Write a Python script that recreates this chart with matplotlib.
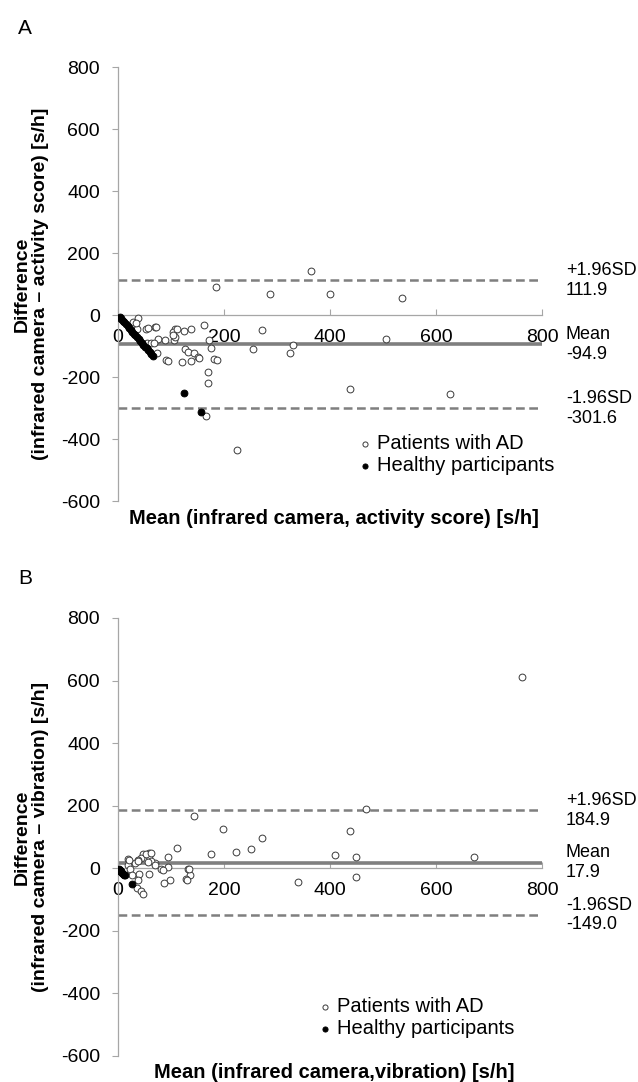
import numpy as np
import matplotlib
matplotlib.use('Agg')
import matplotlib.pyplot as plt

plt.rcParams['font.family'] = ['Liberation Sans', 'DejaVu Sans']
plt.rcParams['axes.unicode_minus'] = False

# panel A : infrared camera vs activity score
pa_x = [365, 184, 287, 400, 536, 6, 37, 29, 35, 53, 70, 108, 103, 124, 137, 162, 271, 55, 63, 76,
        89, 105, 107, 73, 91, 121, 127, 133, 143, 138, 150, 171, 176, 181, 187, 170, 169, 166, 225,
        255, 324, 330, 437, 506, 627, 57, 72, 111, 104, 67, 94, 153, 34]
pa_y = [142, 91, 67, 67, 54, -11, -9, -22, -46, -44, -40, -45, -54, -52, -44, -33, -48, -91, -91, -78,
        -81, -81, -70, -122, -146, -151, -111, -118, -124, -148, -137, -81, -105, -143, -145, -184, -219, -327, -435,
        -110, -124, -97, -238, -78, -255, -43, -38, -46, -65, -89, -147, -138, -25]
ha_x = [3, 6, 9, 12, 15, 18, 21, 24, 27, 30, 33, 36, 39, 42, 45, 48, 51, 54, 57, 60, 63, 66, 125, 156]
ha_y = [-6, -12, -18, -24, -30, -36, -42, -48, -54, -60, -66, -72, -78, -84, -90, -96, -102, -108,
        -114, -120, -126, -132, -250, -313]
limits_a = [111.9, -94.9, -301.6]

# panel B : infrared camera vs vibration
pb_x = [762, 672, 468, 144, 199, 271, 111, 176, 222, 250, 410, 437, 449, 449, 340, 95, 95, 132, 135, 129,
        98, 87, 81, 59, 59, 48, 44, 37, 19, 18, 32, 69, 63, 57, 59, 40, 37, 35, 44, 48,
        22, 21, 38, 53, 62, 84, 134, 26, 70, 131]
pb_y = [612, 36, 188, 168, 126, 96, 64, 46, 51, 62, 41, 120, 37, -27, -43, 37, 3, -1, -23, -34,
        -38, -46, -3, 50, 39, 46, 32, 27, 29, 11, 18, 18, 24, 21, -19, -19, -39, -64, -72, -82,
        -3, 28, 23, 47, 49, -6, -3, -22, 12, -38]
hb_x = [1, 2, 3, 4, 5, 6, 7, 9, 11, 13, 26]
hb_y = [-2, -4, -6, -8, -10, -12, -14, -17, -20, -23, -49]
limits_b = [184.9, 17.9, -149.0]

xticks = [0, 200, 400, 600, 800]
yticks = [-600, -400, -200, 0, 200, 400, 600, 800]
lim_labels = ['+1.96SD', 'Mean', '-1.96SD']

W, H = 638, 1082
fig = plt.figure(figsize=(W/100., H/100.), dpi=100)

def panel(box, px, py, hx, hy, lims, ylab, xlab, letter, leg_anchor):
	l, t, r, b = box
	ax = fig.add_axes([l/W, 1-b/H, (r-l)/W, (b-t)/H])
	ax.set_xlim(0, 800)
	ax.set_ylim(-600, 800)
	gc = '#7f7f7f'
	ax.plot([0, 800], [lims[0]]*2, ls=(0, (3.5, 1.8)), color=gc, lw=1.8, zorder=2)
	ax.plot([0, 800], [lims[2]]*2, ls=(0, (3.5, 1.8)), color=gc, lw=1.8, zorder=2)
	ax.plot([0, 800], [lims[1]]*2, color=gc, lw=2.6, zorder=2)
	ax.scatter(px, py, s=24, facecolors='white', edgecolors='#3a3a3a', linewidths=0.7, zorder=3, label='Patients with AD')
	ax.scatter(hx, hy, s=24, facecolors='black', edgecolors='black', linewidths=0.7, zorder=4, label='Healthy participants')
	for lab, v in zip(lim_labels, lims):
		ax.text(845, v, lab+'\n'+'%.1f' % v, fontsize=13,
			va='center', ha='left', clip_on=False, linespacing=1.2)
	for s in ['top', 'right']: ax.spines[s].set_visible(False)
	ax.spines['bottom'].set_position(('data', 0))
	for s in ['left', 'bottom']:
		ax.spines[s].set_color('#a6a6a6')
		ax.spines[s].set_linewidth(0.9)
	ax.set_xticks(xticks)
	ax.set_yticks(yticks)
	ax.tick_params(axis='x', direction='in', length=4, color='#a6a6a6', pad=10, labelsize=14)
	ax.tick_params(axis='y', direction='out', length=4, color='#a6a6a6', pad=9, labelsize=14)
	ax.patch.set_visible(False)
	ax.legend(loc='upper left', bbox_to_anchor=leg_anchor, frameon=False, fontsize=14.5,
		handletextpad=0.2, borderaxespad=0, borderpad=0, labelspacing=0.15, markerscale=0.75, handlelength=0.8)
	yc = 1-(t+b)/2./H
	fig.text(22/W, yc, ylab[0], rotation=90, ha='center', va='center', fontsize=14, fontweight='bold')
	fig.text(41/W, yc, ylab[1], rotation=90, ha='center', va='center', fontsize=14, fontweight='bold')
	fig.text(334/W, 1-(b+17)/H, xlab, ha='center', va='center', fontsize=14.5, fontweight='bold')
	fig.text(18/W, 1-(t-39)/H, letter, ha='left', va='center', fontsize=15)
	return ax

panel((118, 67, 542, 501), pa_x, pa_y, ha_x, ha_y, limits_a,
	['Difference', '(infrared camera \u2013 activity score) [s/h]'],
	'Mean (infrared camera, activity score) [s/h]', 'A', (0.564, 0.154))
panel((118, 618, 542, 1056), pb_x, pb_y, hb_x, hb_y, limits_b,
	['Difference', '(infrared camera \u2013 vibration) [s/h]'],
	'Mean (infrared camera,vibration) [s/h]', 'B', (0.469, 0.135))

plt.savefig('out.png', dpi=100)
